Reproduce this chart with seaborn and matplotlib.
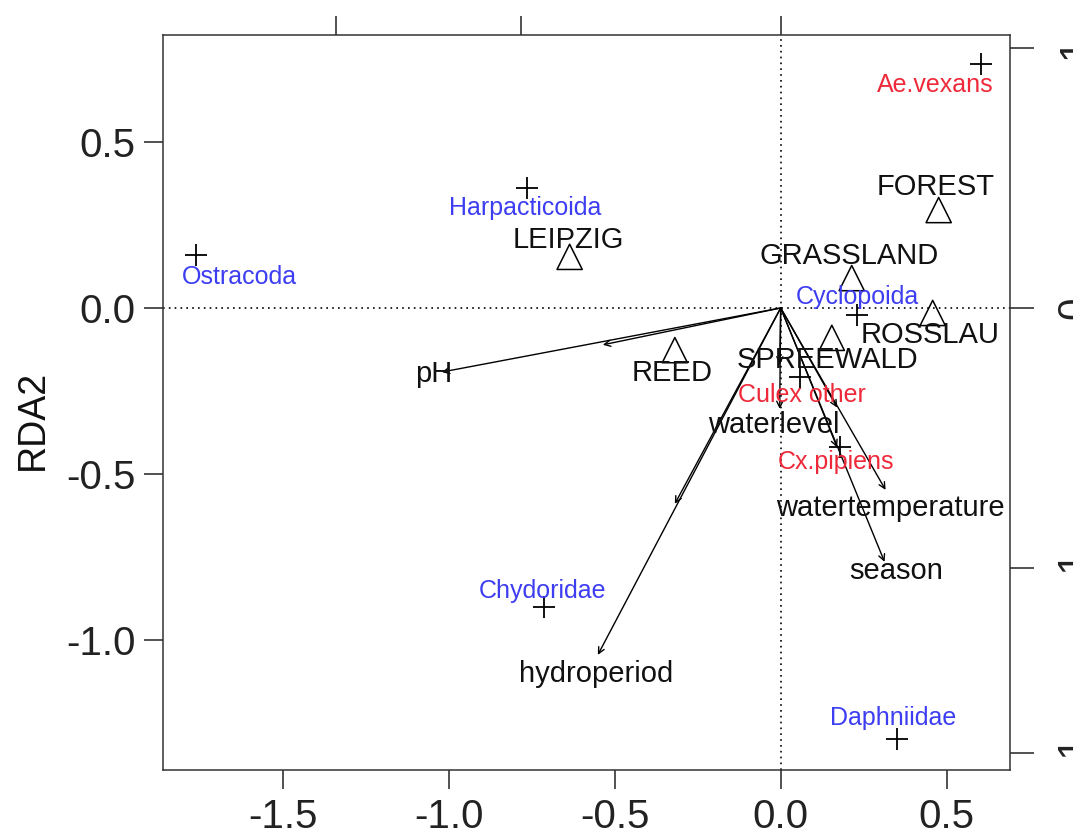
import matplotlib
matplotlib.use("Agg")
import matplotlib.pyplot as plt
import pandas as pd
import seaborn as sns

# species scores (+) and where their labels sit
species = ['Ae.vexans', 'Harpacticoida', 'Ostracoda', 'Cyclopoida',
           'Culex other', 'Cx.pipiens', 'Chydoridae', 'Daphniidae']
species_x = [0.605, -0.765, -1.762, 0.229, 0.057, 0.178, -0.714, 0.349]
species_y = [0.735, 0.361, 0.160, -0.021, -0.208, -0.419, -0.901, -1.298]
species_lab_x = [0.467, -0.771, -1.630, 0.232, 0.063, 0.166, -0.717, 0.340]
species_lab_y = [0.672, 0.301, 0.093, 0.033, -0.262, -0.464, -0.852, -1.235]
species_group = ['mosquito', 'other', 'other', 'other',
                 'mosquito', 'mosquito', 'other', 'other']

# factor centroids (triangles)
sites = ['FOREST', 'GRASSLAND', 'LEIPZIG', 'ROSSLAU', 'SPREEWALD', 'REED']
site_x = [0.476, 0.214, -0.636, 0.458, 0.154, -0.319]
site_y = [0.295, 0.090, 0.154, -0.015, -0.090, -0.127]
site_lab_x = [0.467, 0.205, -0.639, 0.449, 0.142, -0.328]
site_lab_y = [0.364, 0.157, 0.205, -0.081, -0.157, -0.196]

# environmental arrows (outer and inner heads)
env = ['pH', 'hydroperiod', 'waterlevel', 'watertemperature', 'season']
env_x = [-1.021, -0.551, -0.003, 0.316, 0.313]
env_y = [-0.193, -1.045, -0.304, -0.548, -0.765]
env_inner_x = [-0.536, -0.319, -0.003, 0.170, 0.170]
env_inner_y = [-0.111, -0.590, -0.170, -0.300, -0.420]
env_lab_x = [-1.045, -0.557, -0.021, 0.331, 0.349]
env_lab_y = [-0.199, -1.102, -0.352, -0.602, -0.792]

x_ticks = [-1.5, -1.0, -0.5, 0.0, 0.5]
y_ticks = [0.5, 0.0, -0.5, -1.0]
top_ticks = [-1.340, -0.783, 0.0]
right_ticks = [0.783, 0.0, -0.783, -1.340]
right_labels = ['1', '0', '-1', '-1']

sns.set_theme(style='ticks')
plt.rcParams['font.family'] = ['Liberation Sans', 'DejaVu Sans']

df_sp = pd.DataFrame({'x': species_x, 'y': species_y, 'group': species_group})
df_site = pd.DataFrame({'x': site_x, 'y': site_y})

fig = plt.figure(figsize=(10.73, 8.38), dpi=100)
ax = fig.add_axes([0.152, 0.0811, 0.789, 0.877])

ax.axhline(0, color='black', linestyle=(0, (1, 2.5)), linewidth=1.2, zorder=1)
ax.axvline(0, color='black', linestyle=(0, (1, 2.5)), linewidth=1.2, zorder=1)

sns.scatterplot(data=df_sp, x='x', y='y', marker='+', color='black', s=260,
                linewidth=1.3, ax=ax, legend=False, zorder=3)
sns.scatterplot(data=df_site, x='x', y='y', marker='^', s=330,
                facecolor='none', edgecolor='black', linewidth=1.1,
                ax=ax, legend=False, zorder=3)

# arrows
for i in range(len(env)):
    for tx, ty in [(env_x[i], env_y[i]), (env_inner_x[i], env_inner_y[i])]:
        ax.annotate('', xy=(tx, ty), xytext=(0, 0),
                    arrowprops=dict(arrowstyle='->', color='black', lw=1.0,
                                    shrinkA=0, shrinkB=0,
                                    mutation_scale=11))
    ax.text(env_lab_x[i], env_lab_y[i], env[i], fontsize=21, color='#111111',
            ha='center', va='center', zorder=4)

colors = {'mosquito': '#ee2a3a', 'other': '#3d3df2'}
for i in range(len(species)):
    ax.text(species_lab_x[i], species_lab_y[i], species[i], fontsize=18,
            color=colors[species_group[i]], ha='center', va='center', zorder=4)

for i in range(len(sites)):
    ax.text(site_lab_x[i], site_lab_y[i], sites[i], fontsize=21,
            color='#111111', ha='center', va='center', zorder=4)

ax.set_xlim(-1.861, 0.690)
ax.set_ylim(-1.392, 0.822)
ax.set_xticks(x_ticks)
ax.set_xticklabels([f'{v:.1f}' for v in x_ticks])
ax.set_yticks(y_ticks)
ax.set_yticklabels([f'{v:.1f}' for v in y_ticks])
ax.tick_params(axis='both', labelsize=29, length=14, width=1.1,
               colors='#222222', pad=6)
ax.set_xlabel('')
ax.set_ylabel('RDA2', fontsize=27, color='#111111')
ax.yaxis.set_label_coords(-0.133, 0.476)
for s in ax.spines.values():
    s.set_linewidth(1.1)
    s.set_color('#333333')

top = ax.secondary_xaxis('top')
top.set_xticks(top_ticks)
top.tick_params(length=14, width=1.1, labeltop=False, colors='#222222')
right = ax.secondary_yaxis('right')
right.set_yticks(right_ticks)
right.set_yticklabels(right_labels, rotation=90, va='center')
right.tick_params(length=17, width=1.1, labelsize=29, pad=16, colors='#222222')
top.spines['top'].set_visible(False)
right.spines['right'].set_visible(False)

fig.savefig('out.png', dpi=100)
